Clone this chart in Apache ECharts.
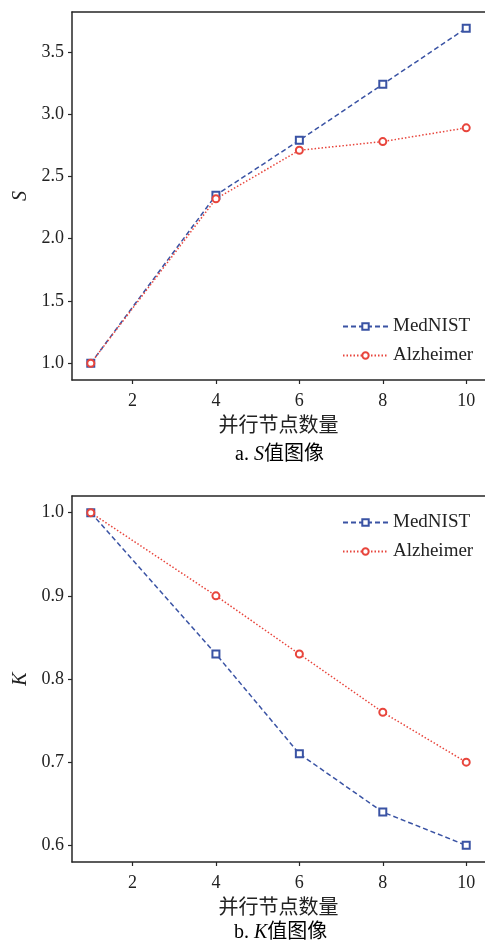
<!DOCTYPE html>
<html><head><meta charset="utf-8">
<script src="https://cdn.jsdelivr.net/npm/echarts@6/dist/echarts.min.js"></script>
<style>html,body{margin:0;padding:0;background:#fff}#c{width:485px;height:941px}</style>
</head><body><div id="c"></div>
<script>
const nodes = [1, 4, 6, 8, 10];
const xTicks = [2, 4, 6, 8, 10];
const sMedNIST = [1.0, 2.35, 2.79, 3.24, 3.69];
const sAlzheimer = [1.0, 2.32, 2.71, 2.78, 2.89];
const kMedNIST = [1.0, 0.83, 0.71, 0.64, 0.60];
const kAlzheimer = [1.0, 0.90, 0.83, 0.76, 0.70];
const sTicks = [1.0, 1.5, 2.0, 2.5, 3.0, 3.5];
const kTicks = [0.6, 0.7, 0.8, 0.9, 1.0];
const seriesNames = ['MedNIST', 'Alzheimer'];
const xName = '并行节点数量';
const captions = ['a. ', 'S', '值图像', 'b. ', 'K', '值图像'];

const FONT = '"Liberation Serif", "Noto Sans CJK SC", serif';
const BLUE = '#3a53a4', RED = '#e8453c', AX = '#262626';
const pair = (xs, ys) => xs.map((x, i) => [x, ys[i]]);

function xAxis(gi) {
  return {
    type: 'value', gridIndex: gi, min: 0.55, max: 10.45,
    axisLine: { show: true, onZero: false, lineStyle: { color: AX, width: 1.5 } },
    axisTick: { show: true, length: 4, customValues: xTicks, lineStyle: { color: AX, width: 1.2 } },
    axisLabel: { customValues: xTicks, margin: 12, fontFamily: FONT, fontSize: 18, color: '#222' },
    splitLine: { show: false },
    name: xName, nameLocation: 'middle', nameGap: 37,
    nameTextStyle: { fontFamily: FONT, fontSize: 20, color: '#222' }
  };
}
function topAxis(gi) {
  return {
    type: 'value', gridIndex: gi, position: 'top', min: 0.55, max: 10.45,
    axisLine: { show: true, onZero: false, lineStyle: { color: AX, width: 1.5 } },
    axisTick: { show: false }, axisLabel: { show: false }, splitLine: { show: false }
  };
}
function yAxis(gi, min, max, ticks, name) {
  return {
    type: 'value', gridIndex: gi, min: min, max: max,
    axisLine: { show: true, onZero: false, lineStyle: { color: AX, width: 1.5 } },
    axisTick: { show: true, length: 4, customValues: ticks, lineStyle: { color: AX, width: 1.2 } },
    axisLabel: { customValues: ticks, margin: 8, fontFamily: FONT, fontSize: 18, color: '#222',
      formatter: v => v.toFixed(1) },
    splitLine: { show: false },
    name: name, nameLocation: 'middle', nameGap: 41, nameRotate: 90,
    nameTextStyle: { fontFamily: FONT, fontSize: 20, fontStyle: 'italic', color: '#222' }
  };
}
function ser(name, gi, data, color, type, symbol) {
  return {
    name: name, type: 'line', xAxisIndex: gi, yAxisIndex: gi, data: data,
    symbol: symbol, symbolSize: 7, showSymbol: true,
    lineStyle: { color: color, width: 1.5, type: type },
    itemStyle: { color: color, borderColor: color, borderWidth: 1.3 },
    z: 3
  };
}
const legendBase = {
  orient: 'vertical', left: 342, padding: 0, itemWidth: 45, itemHeight: 8, itemGap: 10,
  textStyle: { fontFamily: FONT, fontSize: 19, color: '#222', padding: [0, 0, 0, 0] },
  data: seriesNames
};
const capStyle = (t) => ({
  text: '{a|' + t[0] + '}{i|' + t[1] + '}{a|' + t[2] + '}',
  rich: { a: { fontFamily: FONT, fontSize: 20, color: '#222' },
          i: { fontFamily: FONT, fontSize: 20, fontStyle: 'italic', color: '#222' } }
});

const chart = echarts.init(document.getElementById('c'), null, { renderer: 'canvas' });
chart.setOption({
  animation: false,
  backgroundColor: '#fff',
  grid: [
    { left: 72, top: 12, width: 416, height: 368, show: false, containLabel: false },
    { left: 72, top: 496, width: 416, height: 366, show: false, containLabel: false }
  ],
  xAxis: [xAxis(0), xAxis(1), topAxis(0), topAxis(1)],
  yAxis: [yAxis(0, 0.866, 3.82, sTicks, 'S'), yAxis(1, 0.58, 1.02, kTicks, 'K')],
  legend: [
    Object.assign({}, legendBase, { top: 317 }),
    Object.assign({}, legendBase, { top: 513 })
  ],
  series: [
    ser(seriesNames[0], 0, pair(nodes, sMedNIST), BLUE, [5, 3], 'emptyRect'),
    ser(seriesNames[1], 0, pair(nodes, sAlzheimer), RED, [1.5, 2], 'emptyCircle'),
    ser(seriesNames[0], 1, pair(nodes, kMedNIST), BLUE, [5, 3], 'emptyRect'),
    ser(seriesNames[1], 1, pair(nodes, kAlzheimer), RED, [1.5, 2], 'emptyCircle')
  ],
  graphic: [
    { type: 'text', left: 235, top: 445, style: capStyle(captions.slice(0, 3)) },
    { type: 'text', left: 234, top: 923, style: capStyle(captions.slice(3, 6)) }
  ]
});
</script></body></html>
